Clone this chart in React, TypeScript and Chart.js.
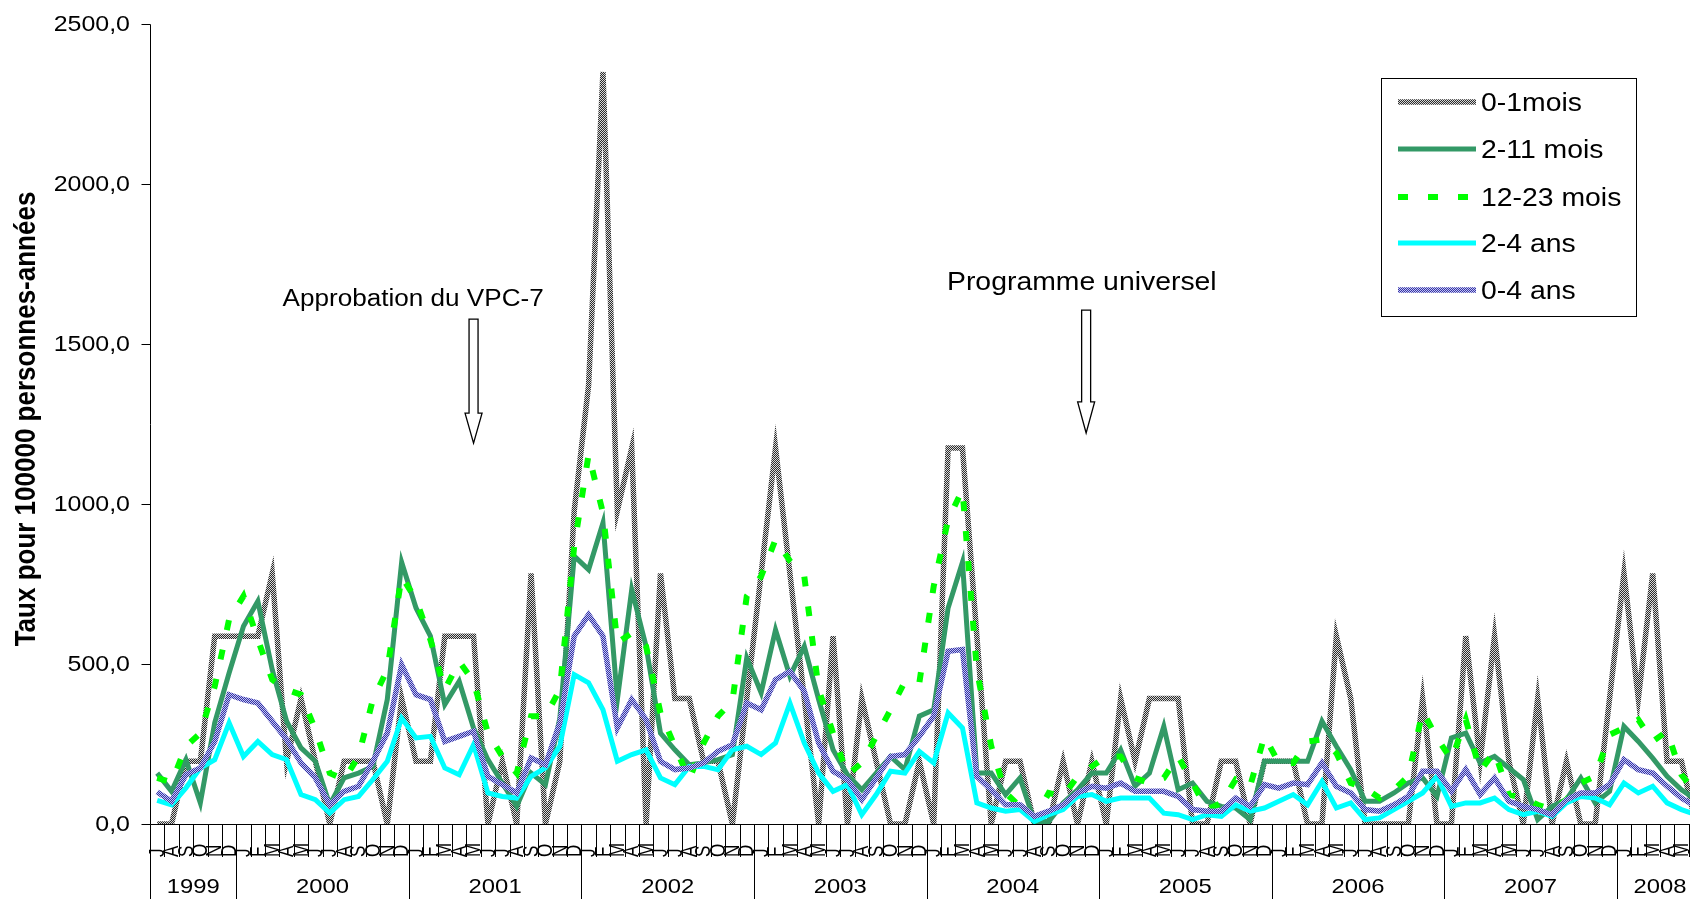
import React, { useEffect, useRef } from 'react';
import { Chart, registerables } from 'chart.js';

Chart.register(...registerables);

// ---------- DATA (monthly, July 1999 – June 2008) ----------
const yearLabels = ['1999', '2000', '2001', '2002', '2003', '2004', '2005', '2006', '2007', '2008'];
const monthsPerYear = [6, 12, 12, 12, 12, 12, 12, 12, 12, 6];
const monthLettersFull = ['J', 'F', 'M', 'A', 'M', 'J', 'J', 'A', 'S', 'O', 'N', 'D'];
const yTicks = [0, 500, 1000, 1500, 2000, 2500];

const seriesNames = ['0-1mois', '2-11 mois', '12-23 mois', '2-4 ans', '0-4 ans'];

const s0_1mois = [
  0, 0, 196, 196, 587, 587,
  587, 587, 783, 196, 392, 196, 0, 196, 196, 196, 0, 392,
  196, 196, 587, 587, 587, 0, 196, 0, 783, 0, 196, 979,
  1371, 2350, 979, 1175, 0, 783, 392, 392, 196, 196, 0, 392,
  783, 1175, 783, 392, 0, 587, 0, 392, 196, 0, 0, 196,
  0, 1175, 1175, 587, 0, 196, 196, 0, 0, 196, 0, 196,
  0, 392, 196, 392, 392, 392, 0, 0, 196, 196, 0, 196,
  196, 196, 0, 0, 587, 392, 0, 0, 0, 0, 392, 0,
  0, 587, 196, 587, 196, 0, 392, 0, 196, 0, 0, 392,
  783, 392, 783, 196, 196, 0,
];
const s2_11mois = [
  159, 102, 201, 66, 316, 472,
  618, 696, 482, 321, 238, 196, 60, 144, 159, 180, 389, 818,
  675, 587, 373, 446, 300, 201, 128, 55, 159, 123, 330, 837,
  795, 941, 389, 733, 555, 284, 232, 185, 191, 201, 217, 519,
  410, 607, 462, 555, 389, 232, 154, 107, 159, 211, 170, 337,
  357, 675, 818, 159, 159, 92, 144, 8, 8, 66, 107, 159,
  159, 232, 118, 159, 305, 107, 128, 71, 55, 50, 14, 196,
  196, 196, 196, 321, 243, 170, 71, 71, 97, 128, 144, 86,
  269, 284, 191, 211, 175, 139, 14, 55, 76, 144, 66, 102,
  305, 258, 206, 149, 107, 76,
];
const s12_23mois = [
  144, 130, 243, 284, 430, 639,
  712, 576, 451, 420, 404, 295, 159, 139, 211, 389, 482, 774,
  701, 576, 420, 508, 446, 284, 211, 159, 337, 337, 420, 868,
  1155, 972, 566, 597, 555, 347, 243, 139, 253, 337, 383, 712,
  774, 889, 822, 774, 420, 284, 154, 191, 274, 357, 446, 441,
  743, 951, 1045, 482, 243, 97, 55, 14, 97, 86, 149, 180,
  211, 211, 144, 128, 144, 211, 128, 45, 66, 139, 118, 274,
  191, 191, 258, 264, 222, 128, 112, 81, 107, 149, 352, 269,
  201, 326, 165, 227, 92, 81, 60, 45, 76, 128, 149, 279,
  300, 326, 258, 290, 154, 97,
];
const s2_4ans = [
  74, 60, 113, 175, 201, 316,
  211, 258, 217, 201, 92, 76, 34, 76, 86, 139, 196, 331,
  269, 274, 175, 154, 248, 97, 86, 81, 149, 175, 243, 467,
  441, 357, 196, 217, 232, 144, 123, 180, 180, 170, 232, 243,
  217, 253, 378, 253, 159, 102, 123, 29, 92, 165, 159, 227,
  191, 347, 300, 66, 50, 40, 45, 8, 29, 45, 86, 92,
  71, 81, 81, 81, 34, 29, 14, 29, 24, 60, 40, 50,
  71, 92, 60, 133, 50, 66, 14, 19, 45, 71, 97, 149,
  55, 66, 66, 81, 45, 29, 40, 24, 66, 86, 81, 60,
  128, 97, 118, 66, 45, 29,
];
const s0_4ans = [
  100, 71, 154, 175, 258, 404,
  389, 378, 321, 264, 191, 144, 60, 102, 118, 196, 284, 498,
  404, 389, 258, 274, 290, 149, 123, 97, 206, 185, 316, 587,
  654, 587, 300, 389, 326, 196, 170, 175, 191, 227, 248, 378,
  357, 451, 477, 415, 253, 165, 139, 76, 144, 211, 217, 274,
  337, 540, 545, 149, 107, 60, 60, 24, 40, 60, 97, 118,
  112, 128, 102, 102, 102, 86, 45, 40, 40, 81, 55, 123,
  112, 128, 123, 191, 118, 97, 45, 40, 60, 86, 165, 165,
  102, 170, 92, 144, 71, 55, 45, 29, 76, 97, 97, 123,
  201, 170, 159, 118, 81, 55,
];

const annotations = [
  { text: 'Approbation du VPC-7', month: 22, labelMonth: 17.8, labelValue: 1640, fontPx: 23, arrowTop: 1578, arrowHead: 1284, arrowTip: 1190 },
  { text: 'Programme universel', month: 64.6, labelMonth: 64.3, labelValue: 1690, fontPx: 25, arrowTop: 1606, arrowHead: 1319, arrowTip: 1222 },
];

// ---------- LAYOUT ----------
const W = 1720;
const H = 940;
const LEFT = 150;
const TOP = 24;
const BOTTOM = 824;
const MONTHS = s0_1mois.length;
const MW = 14.38;
const RIGHT = LEFT + MONTHS * MW;
const SX = 1.135; // horizontal stretch of the reference's text
const FONT = '"Liberation Sans", Arial, sans-serif';

function checker(ctx: CanvasRenderingContext2D, a: string, b: string) {
  const p = document.createElement('canvas');
  p.width = 2;
  p.height = 2;
  const g = p.getContext('2d')!;
  g.fillStyle = a;
  g.fillRect(0, 0, 2, 2);
  g.fillStyle = b;
  g.fillRect(0, 0, 1, 1);
  g.fillRect(1, 1, 1, 1);
  return ctx.createPattern(p, 'repeat')!;
}

function txt(
  ctx: CanvasRenderingContext2D,
  s: string,
  x: number,
  y: number,
  font: string,
  align: CanvasTextAlign,
  baseline: CanvasTextBaseline,
  rot = 0,
  sx = SX
) {
  ctx.save();
  ctx.translate(x, y);
  ctx.scale(sx, 1);
  if (rot) ctx.rotate(rot);
  ctx.font = font;
  ctx.textAlign = align;
  ctx.textBaseline = baseline;
  ctx.fillStyle = '#000';
  ctx.fillText(s, 0, 0);
  ctx.restore();
}

export default function App() {
  const ref = useRef<HTMLCanvasElement>(null);

  useEffect(() => {
    const canvas = ref.current!;
    const ctx = canvas.getContext('2d')!;
    const grayPat = checker(ctx, '#2c2c2c', '#d8d8d8');
    const bluePat = checker(ctx, '#3434a4', '#c4c4f4');

    const styles = [
      { color: grayPat as any, width: 5.5, dash: [] as number[], order: 5 },
      { color: '#339966', width: 5, dash: [], order: 4 },
      { color: '#00FF00', width: 6, dash: [10, 20], order: 3 },
      { color: '#00FFFF', width: 5, dash: [], order: 2 },
      { color: bluePat as any, width: 5.5, dash: [], order: 1 },
    ];
    const values = [s0_1mois, s2_11mois, s12_23mois, s2_4ans, s0_4ans];

    const datasets = values.map((arr, k) => ({
      label: seriesNames[k],
      data: arr.map((v, i) => ({ x: i, y: v })),
      borderColor: styles[k].color,
      backgroundColor: styles[k].color,
      borderWidth: styles[k].width,
      borderDash: styles[k].dash,
      borderCapStyle: 'butt' as const,
      borderJoinStyle: 'miter' as const,
      pointRadius: 0,
      tension: 0,
      fill: false,
      order: styles[k].order,
    }));

    const axesPlugin = {
      id: 'axesPlugin',
      beforeDatasetsDraw(chart: any) {
        const c = chart.ctx as CanvasRenderingContext2D;
        const xs = chart.scales.x;
        const ys = chart.scales.y;
        const y0 = Math.round(ys.getPixelForValue(0)) + 0.5;
        const xl = Math.round(xs.getPixelForValue(-0.5)) + 0.5;
        c.save();
        c.strokeStyle = '#000';
        c.lineWidth = 1;
        // y axis + ticks
        c.beginPath();
        c.moveTo(xl, Math.round(ys.getPixelForValue(2500)) + 0.5);
        c.lineTo(xl, y0);
        yTicks.forEach((t) => {
          const yy = Math.round(ys.getPixelForValue(t)) + 0.5;
          c.moveTo(xl - 9, yy);
          c.lineTo(xl, yy);
        });
        // x axis
        c.moveTo(xl, y0);
        c.lineTo(xs.getPixelForValue(MONTHS - 0.5), y0);
        // month ticks and year separators
        let m = 0;
        const yearStarts: number[] = [0];
        monthsPerYear.forEach((n) => {
          m += n;
          yearStarts.push(m);
        });
        for (let i = 0; i <= MONTHS; i++) {
          const xx = Math.round(xs.getPixelForValue(i - 0.5)) + 0.5;
          const isYear = yearStarts.includes(i);
          c.moveTo(xx, y0);
          c.lineTo(xx, isYear ? H : 857);
        }
        c.stroke();
        c.restore();

        // y tick labels
        yTicks.forEach((t) => {
          const yy = ys.getPixelForValue(t);
          txt(c, t.toFixed(1).replace('.', ','), 130, yy + 1, `22px ${FONT}`, 'right', 'middle');
        });

        // month letters (rotated)
        let idx = 0;
        monthsPerYear.forEach((n, yi) => {
          const startLetter = yi === 0 ? 6 : 0;
          for (let k = 0; k < n; k++) {
            const letter = monthLettersFull[(startLetter + k) % 12];
            const cx = xs.getPixelForValue(idx);
            txt(c, letter, cx + 0.5, 857, `17px ${FONT}`, 'left', 'middle', -Math.PI / 2, 1.32);
            idx++;
          }
        });

        // year labels
        let s = 0;
        monthsPerYear.forEach((n, yi) => {
          const a = xs.getPixelForValue(s - 0.5);
          const b = xs.getPixelForValue(s + n - 0.5);
          txt(c, yearLabels[yi], (a + b) / 2, 887, `21px ${FONT}`, 'center', 'middle');
          s += n;
        });

        // y axis title
        txt(c, 'Taux pour 100000 personnes-années', 27, 419, `bold 26px ${FONT}`, 'center', 'middle', -Math.PI / 2);
      },
    };

    const overlayPlugin = {
      id: 'overlayPlugin',
      afterDatasetsDraw(chart: any) {
        const c = chart.ctx as CanvasRenderingContext2D;
        const xs = chart.scales.x;
        const ys = chart.scales.y;
        // annotations with hollow arrows
        annotations.forEach((a) => {
          const cx = xs.getPixelForValue(a.month);
          const top = ys.getPixelForValue(a.arrowTop);
          const hs = ys.getPixelForValue(a.arrowHead);
          const tip = ys.getPixelForValue(a.arrowTip);
          c.save();
          c.beginPath();
          c.moveTo(cx - 4.5, top);
          c.lineTo(cx - 4.5, hs);
          c.lineTo(cx - 8.5, hs);
          c.lineTo(cx, tip);
          c.lineTo(cx + 8.5, hs);
          c.lineTo(cx + 4.5, hs);
          c.lineTo(cx + 4.5, top);
          c.closePath();
          c.fillStyle = '#fff';
          c.fill();
          c.strokeStyle = '#000';
          c.lineWidth = 1.3;
          c.stroke();
          c.restore();
          txt(c, a.text, xs.getPixelForValue(a.labelMonth), ys.getPixelForValue(a.labelValue), `${a.fontPx}px ${FONT}`, 'center', 'middle');
        });

        // legend
        c.save();
        c.fillStyle = '#fff';
        c.fillRect(1381.5, 78.5, 255, 238);
        c.strokeStyle = '#000';
        c.lineWidth = 1;
        c.strokeRect(1381.5, 78.5, 255, 238);
        c.restore();
        const rows = [102, 149, 197, 243, 290];
        rows.forEach((ry, k) => {
          c.save();
          c.beginPath();
          c.moveTo(1398, ry);
          c.lineTo(1476, ry);
          c.strokeStyle = styles[k].color;
          c.lineWidth = styles[k].width;
          c.setLineDash(styles[k].dash);
          c.stroke();
          c.restore();
          txt(c, seriesNames[k], 1481, ry + 2, `25px ${FONT}`, 'left', 'middle');
        });
      },
    };

    const chart = new Chart(canvas, {
      type: 'line',
      data: { datasets: datasets as any },
      options: {
        animation: false,
        responsive: false,
        devicePixelRatio: 1,
        layout: { padding: { left: LEFT, top: TOP, right: W - RIGHT, bottom: H - BOTTOM } },
        scales: {
          x: { type: 'linear', min: -0.5, max: MONTHS - 0.5, display: false },
          y: { type: 'linear', min: 0, max: 2500, display: false },
        },
        plugins: { legend: { display: false }, tooltip: { enabled: false } },
        elements: { point: { radius: 0 } },
      },
      plugins: [axesPlugin, overlayPlugin],
    });
    return () => chart.destroy();
  }, []);

  return (
    <div
      style={{
        position: 'fixed',
        left: 0,
        top: 0,
        width: 1690,
        height: 899,
        overflow: 'hidden',
        background: '#fff',
      }}
    >
      <canvas ref={ref} width={W} height={H} style={{ display: 'block', width: W, height: H }} />
    </div>
  );
}
